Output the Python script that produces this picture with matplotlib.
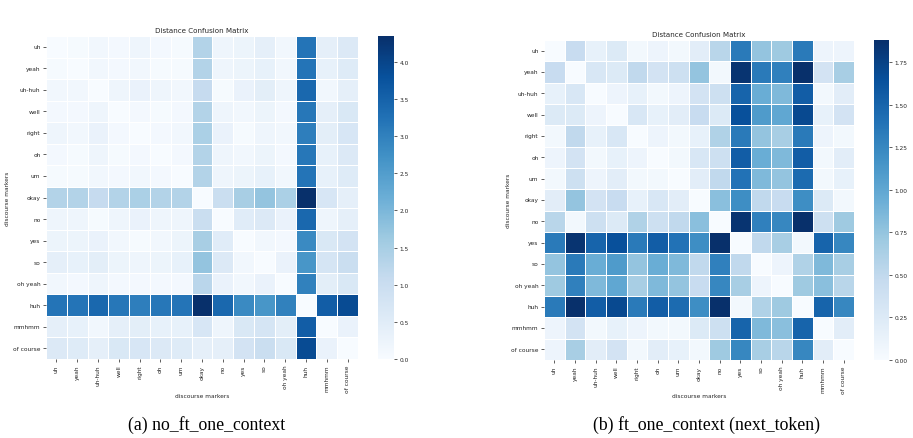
import numpy as np
import matplotlib
matplotlib.use("Agg")
import matplotlib.pyplot as plt
import seaborn as sns

labels = ["uh", "yeah", "uh-huh", "well", "right", "oh", "um", "okay", "no",
          "yes", "so", "oh yeah", "huh", "mmhmm", "of course"]

no_ft = [
    [0.00, 0.05, 0.15, 0.10, 0.20, 0.10, 0.05, 1.35, 0.20, 0.25, 0.40, 0.15, 3.20, 0.40, 0.60],
    [0.05, 0.00, 0.15, 0.10, 0.15, 0.05, 0.05, 1.35, 0.20, 0.25, 0.35, 0.15, 3.20, 0.35, 0.55],
    [0.15, 0.15, 0.00, 0.20, 0.30, 0.20, 0.15, 1.10, 0.05, 0.30, 0.45, 0.20, 3.40, 0.15, 0.40],
    [0.10, 0.10, 0.20, 0.00, 0.10, 0.05, 0.10, 1.35, 0.20, 0.15, 0.25, 0.10, 3.15, 0.40, 0.65],
    [0.20, 0.15, 0.30, 0.10, 0.00, 0.10, 0.15, 1.45, 0.30, 0.05, 0.20, 0.15, 3.05, 0.45, 0.70],
    [0.10, 0.05, 0.20, 0.05, 0.10, 0.00, 0.10, 1.35, 0.20, 0.15, 0.25, 0.10, 3.15, 0.35, 0.60],
    [0.05, 0.05, 0.15, 0.10, 0.15, 0.10, 0.00, 1.35, 0.20, 0.25, 0.35, 0.15, 3.20, 0.35, 0.55],
    [1.35, 1.35, 1.10, 1.35, 1.45, 1.35, 1.35, 0.00, 1.00, 1.50, 1.75, 1.45, 4.35, 0.70, 0.40],
    [0.20, 0.20, 0.05, 0.20, 0.30, 0.20, 0.20, 1.00, 0.00, 0.50, 0.60, 0.30, 3.40, 0.20, 0.40],
    [0.25, 0.25, 0.30, 0.15, 0.05, 0.15, 0.25, 1.50, 0.50, 0.00, 0.15, 0.10, 2.85, 0.65, 0.80],
    [0.40, 0.35, 0.45, 0.25, 0.20, 0.25, 0.35, 1.75, 0.60, 0.15, 0.00, 0.30, 2.65, 0.75, 1.00],
    [0.15, 0.10, 0.20, 0.10, 0.10, 0.10, 0.10, 1.25, 0.30, 0.15, 0.30, 0.00, 3.00, 0.45, 0.65],
    [3.20, 3.20, 3.40, 3.15, 3.05, 3.15, 3.20, 4.35, 3.40, 2.85, 2.65, 3.00, 0.00, 3.60, 3.90],
    [0.40, 0.35, 0.15, 0.40, 0.45, 0.35, 0.35, 0.70, 0.20, 0.65, 0.75, 0.45, 3.60, 0.00, 0.30],
    [0.60, 0.55, 0.40, 0.65, 0.70, 0.60, 0.55, 0.40, 0.40, 0.80, 1.00, 0.65, 3.90, 0.30, 0.00],
]

ft_next = [
    [0.00, 0.45, 0.15, 0.25, 0.05, 0.10, 0.05, 0.20, 0.55, 1.35, 0.75, 0.70, 1.35, 0.10, 0.10],
    [0.45, 0.00, 0.30, 0.25, 0.50, 0.35, 0.40, 0.75, 0.05, 1.85, 1.35, 1.30, 1.88, 0.35, 0.65],
    [0.15, 0.30, 0.00, 0.10, 0.15, 0.05, 0.10, 0.35, 0.40, 1.50, 0.95, 0.85, 1.55, 0.05, 0.20],
    [0.25, 0.25, 0.10, 0.00, 0.30, 0.15, 0.20, 0.45, 0.25, 1.65, 1.10, 1.00, 1.70, 0.15, 0.35],
    [0.05, 0.50, 0.15, 0.30, 0.00, 0.10, 0.05, 0.15, 0.60, 1.35, 0.75, 0.65, 1.35, 0.10, 0.05],
    [0.10, 0.35, 0.05, 0.15, 0.10, 0.00, 0.05, 0.30, 0.40, 1.55, 0.95, 0.85, 1.55, 0.05, 0.20],
    [0.05, 0.40, 0.10, 0.20, 0.05, 0.05, 0.00, 0.20, 0.50, 1.40, 0.85, 0.75, 1.45, 0.05, 0.15],
    [0.20, 0.75, 0.35, 0.45, 0.15, 0.30, 0.20, 0.00, 0.80, 1.20, 0.50, 0.45, 1.20, 0.25, 0.05],
    [0.55, 0.05, 0.40, 0.25, 0.60, 0.40, 0.50, 0.80, 0.00, 1.85, 1.30, 1.25, 1.88, 0.40, 0.70],
    [1.35, 1.85, 1.50, 1.65, 1.35, 1.55, 1.40, 1.20, 1.88, 0.00, 0.50, 0.65, 0.05, 1.50, 1.25],
    [0.75, 1.35, 0.95, 1.10, 0.75, 0.95, 0.85, 0.50, 1.30, 0.50, 0.00, 0.10, 0.60, 0.85, 0.65],
    [0.70, 1.30, 0.85, 1.00, 0.65, 0.85, 0.75, 0.45, 1.25, 0.65, 0.10, 0.00, 0.70, 0.80, 0.55],
    [1.35, 1.88, 1.55, 1.70, 1.35, 1.55, 1.45, 1.20, 1.88, 0.05, 0.60, 0.70, 0.00, 1.50, 1.25],
    [0.10, 0.35, 0.05, 0.15, 0.10, 0.05, 0.05, 0.25, 0.40, 1.50, 0.85, 0.80, 1.50, 0.00, 0.20],
    [0.10, 0.65, 0.20, 0.35, 0.05, 0.20, 0.15, 0.05, 0.70, 1.25, 0.65, 0.55, 1.25, 0.20, 0.00],
]

captions = ["(a) no_ft_one_context", "(b) ft_one_context (next_token)"]
title = "Distance Confusion Matrix"
axis_label = "discourse markers"

W, H = 913, 439
fig = plt.figure(figsize=(W / 100, H / 100), dpi=100)

def frac(x0, y0, x1, y1):
    return [x0 / W, 1 - y1 / H, (x1 - x0) / W, (y1 - y0) / H]

panels = [
    dict(data=no_ft, ax=frac(46, 37, 358, 360), cax=frac(378, 37, 394, 360),
         ticks=np.arange(0, 4.01, 0.5), fmt="{:.1f}", cap_x=207, ylab_x=8, title_y=31),
    dict(data=ft_next, ax=frac(544, 41, 854, 361), cax=frac(874, 41, 889, 361),
         ticks=np.arange(0, 1.76, 0.25), fmt="{:.2f}", cap_x=706, ylab_x=508, title_y=35),
]

fs = 4.2
tc = "#262626"
for p, cap in zip(panels, captions):
    ax = fig.add_axes(p["ax"])
    cax = fig.add_axes(p["cax"])
    arr = np.array(p["data"])
    sns.heatmap(arr, ax=ax, cbar_ax=cax, cmap="Blues", vmin=0, vmax=arr.max(),
                linewidths=0.6, linecolor="white",
                xticklabels=labels, yticklabels=labels)
    ax.set_title("")
    ax.tick_params(axis="both", labelsize=fs, length=2.5, width=0.6, pad=1.5,
                   color="#444444", labelcolor=tc)
    plt.setp(ax.get_xticklabels(), rotation=90)
    plt.setp(ax.get_yticklabels(), rotation=0)
    ax.set_xlabel("")
    ax.set_ylabel("")
    cax.set_yticks(p["ticks"])
    cax.set_yticklabels([p["fmt"].format(t) for t in p["ticks"]])
    cax.tick_params(labelsize=fs, length=2.5, width=0.6, pad=1.5,
                    color="#444444", labelcolor=tc)
    axpos = p["ax"]
    xc = axpos[0] + axpos[2] / 2
    yc = axpos[1] + axpos[3] / 2
    fig.text(xc, 1 - p["title_y"] / H, title, fontsize=5.1, color=tc,
             ha="center", va="center")
    fig.text(xc, 1 - 397 / H, axis_label, fontsize=fs, color=tc,
             ha="center", va="center")
    fig.text(p["ylab_x"] / W, yc, axis_label, rotation=90, fontsize=fs, color=tc,
             ha="center", va="center")
    fig.text(p["cap_x"] / W, 1 - 425 / H, cap, fontsize=12.8,
             family="Liberation Serif", ha="center", va="center")

fig.savefig("out.png", dpi=100)
